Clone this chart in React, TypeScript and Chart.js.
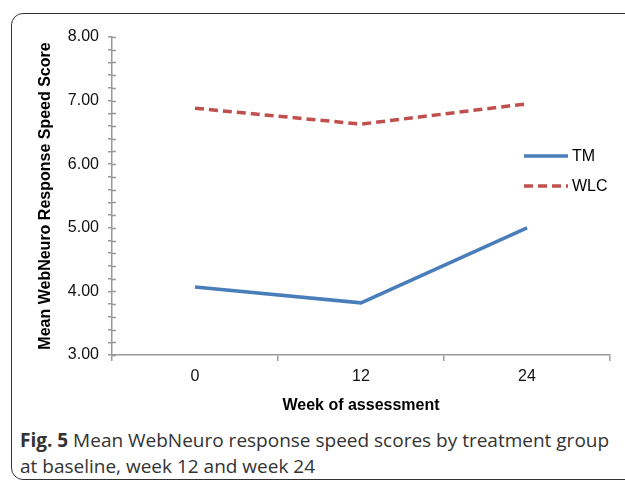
import React, { useEffect, useRef } from "react";
import { Chart, registerables } from "chart.js";

Chart.register(...registerables);

const categories = ["0", "12", "24"];
const tmValues = [4.07, 3.82, 5.0];
const wlcValues = [6.88, 6.63, 6.95];
const seriesLabels = ["TM", "WLC"];
const yMin = 3;
const yMax = 8;
const yStep = 0.2;
const yTitle = "Mean WebNeuro Response Speed Score";
const xTitle = "Week of assessment";
const captionBold = "Fig. 5";
const captionLine1 = " Mean WebNeuro response speed scores by treatment group";
const captionLine2 = "at baseline, week 12 and week 24";

const FONT = "'Liberation Sans', Arial, sans-serif";
const AXIS_COLOR = "#999999";

const innerTicks = {
  id: "innerTicks",
  afterDraw(chart: any) {
    const y = chart.scales.y;
    const ctx = chart.ctx;
    ctx.save();
    ctx.strokeStyle = AXIS_COLOR;
    ctx.lineWidth = 1.5;
    ctx.beginPath();
    for (const t of y.ticks) {
      const py = Math.round(y.getPixelForValue(t.value)) + 0.5;
      ctx.moveTo(chart.chartArea.left, py);
      ctx.lineTo(chart.chartArea.left + 4, py);
    }
    ctx.stroke();
    ctx.restore();
  },
};

const floatLegend = {
  id: "floatLegend",
  afterDraw(chart: any, _args: any, opts: any) {
    const ctx = chart.ctx;
    ctx.save();
    chart.data.datasets.forEach((ds: any, i: number) => {
      const yy = opts.y + i * opts.spacing;
      ctx.strokeStyle = ds.borderColor;
      ctx.lineWidth = ds.borderWidth;
      ctx.setLineDash(ds.borderDash || []);
      ctx.beginPath();
      ctx.moveTo(opts.x, yy);
      ctx.lineTo(opts.x + opts.lineLength, yy);
      ctx.stroke();
      ctx.setLineDash([]);
      ctx.fillStyle = "#000";
      ctx.font = `16px ${FONT}`;
      ctx.textBaseline = "middle";
      ctx.textAlign = "left";
      ctx.fillText(ds.label, opts.x + opts.lineLength + 4, yy + 1);
    });
    ctx.restore();
  },
};

export default function App() {
  const ref = useRef<HTMLCanvasElement>(null);
  useEffect(() => {
    if (!ref.current) return;
    const chart = new Chart(ref.current, {
      type: "line",
      data: {
        labels: categories,
        datasets: [
          {
            label: seriesLabels[0],
            data: tmValues,
            borderColor: "#4a7ebb",
            borderWidth: 3.5,
            pointRadius: 0,
            tension: 0,
            fill: false,
          },
          {
            label: seriesLabels[1],
            data: wlcValues,
            borderColor: "#c0504d",
            borderWidth: 3.5,
            borderDash: [9, 5],
            pointRadius: 0,
            tension: 0,
            fill: false,
          },
        ],
      },
      plugins: [innerTicks, floatLegend],
      options: {
        animation: false,
        responsive: false,
        events: [],
        layout: { padding: { top: 37, right: 15, bottom: 0, left: 0 } },
        plugins: {
          legend: { display: false },
          tooltip: { enabled: false },
          floatLegend: { x: 524, y: 156, spacing: 30, lineLength: 44 },
        } as any,
        scales: {
          x: {
            type: "category",
            offset: true,
            grid: {
              offset: true,
              drawOnChartArea: false,
              drawTicks: true,
              tickLength: 6,
              color: AXIS_COLOR,
              lineWidth: 1.5,
            },
            border: { display: true, color: AXIS_COLOR, width: 1.5 },
            ticks: {
              color: "#111",
              font: { family: FONT, size: 16 },
              padding: 6,
              maxRotation: 0,
            },
            title: {
              display: true,
              text: xTitle,
              color: "#000",
              font: { family: FONT, size: 16, weight: "bold" },
              padding: { top: 0, bottom: 10 },
            },
            afterFit: (s: any) => {
              s.height = 70;
            },
          },
          y: {
            min: yMin,
            max: yMax,
            grid: {
              drawOnChartArea: false,
              drawTicks: true,
              tickLength: 4,
              color: AXIS_COLOR,
              lineWidth: 1.5,
            },
            border: { display: true, color: AXIS_COLOR, width: 1.5 },
            ticks: {
              stepSize: yStep,
              autoSkip: false,
              color: "#111",
              font: { family: FONT, size: 16 },
              padding: 9,
              callback: (v: any) => {
                const n = Number(v);
                return Math.abs(n - Math.round(n)) < 1e-6 ? n.toFixed(2) : "";
              },
            },
            title: {
              display: true,
              text: yTitle,
              color: "#000",
              font: { family: FONT, size: 16, weight: "bold" },
              padding: { top: 36, bottom: 0 },
            },
            afterFit: (s: any) => {
              s.width = 112;
            },
          },
        },
      },
    });
    return () => chart.destroy();
  }, []);

  return (
    <div
      style={{
        position: "fixed",
        left: 0,
        top: 0,
        width: 625,
        height: 483,
        overflow: "hidden",
        background: "#fff",
      }}
    >
      <div
        style={{
          position: "absolute",
          left: 11,
          top: 13,
          width: 800,
          height: 467,
          border: "1.5px solid #333",
          borderRadius: 12,
          boxSizing: "border-box",
        }}
      />
      <canvas
        ref={ref}
        width={625}
        height={425}
        style={{ position: "absolute", left: 0, top: 0, width: 625, height: 425 }}
      />
      <div
        style={{
          position: "absolute",
          left: 20,
          top: 427,
          fontFamily: "'Open Sans', sans-serif",
          fontSize: 19,
          lineHeight: "26px",
          color: "#333",
          whiteSpace: "nowrap",
        }}
      >
        <span style={{ fontWeight: 700 }}>{captionBold}</span>
        {captionLine1}
        <br />
        {captionLine2}
      </div>
    </div>
  );
}
